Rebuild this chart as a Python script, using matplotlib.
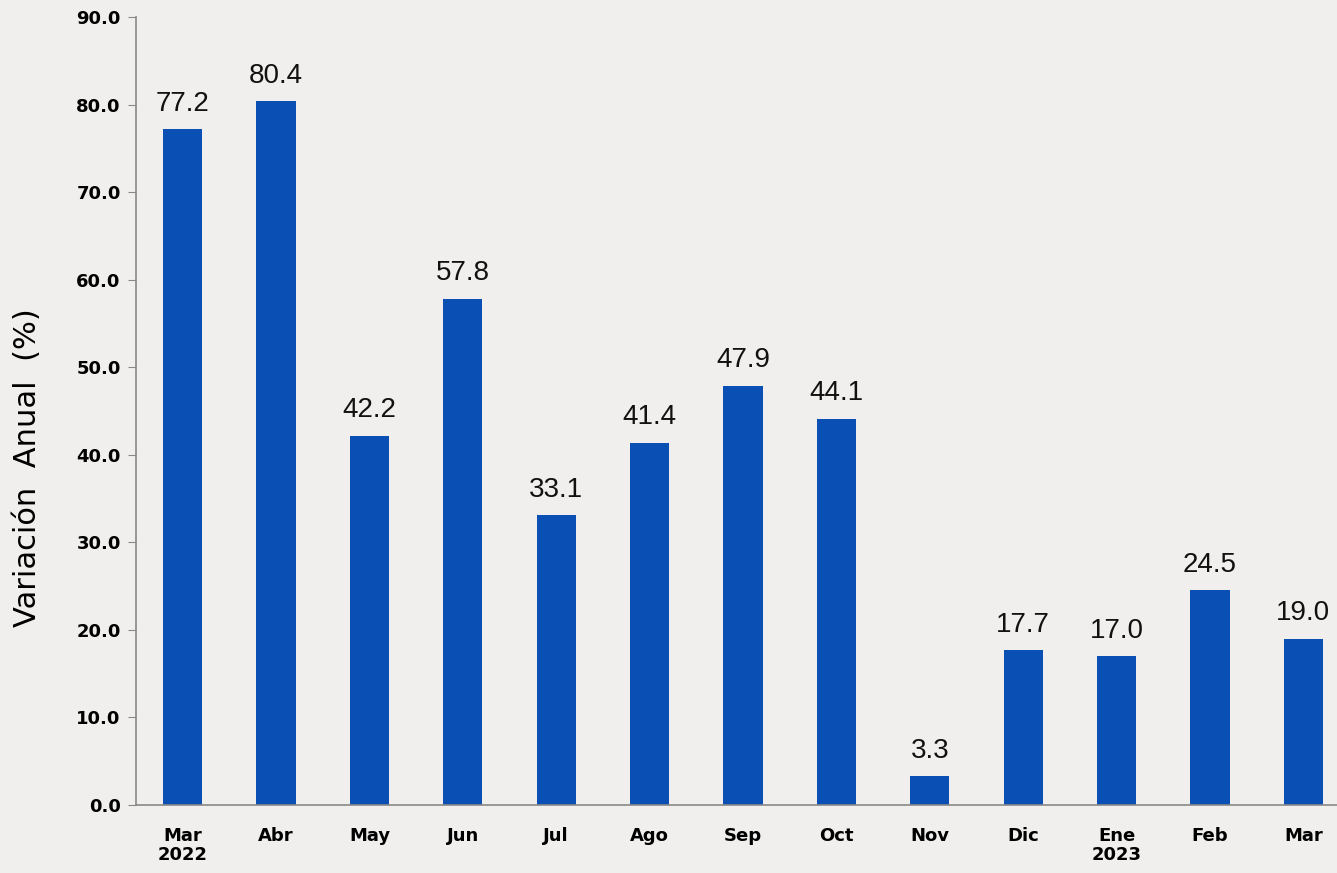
import matplotlib.pyplot as plt
import numpy as np

meses = ['Mar\n2022', 'Abr', 'May', 'Jun', 'Jul', 'Ago', 'Sep', 'Oct', 'Nov',
         'Dic', 'Ene\n2023', 'Feb', 'Mar']
variacion = [77.2, 80.4, 42.2, 57.8, 33.1, 41.4, 47.9, 44.1, 3.3,
             17.7, 17.0, 24.5, 19.0]
yticks = np.arange(0, 91, 10)

fondo = '#f0efed'
azul = '#0a50b4'

fig = plt.figure(figsize=(13.37, 8.73), dpi=100, facecolor=fondo)
ax = fig.add_axes([0.1017, 0.0779, 0.8983, 0.9026])
ax.set_facecolor(fondo)

x = np.arange(len(meses))
bars = ax.bar(x, variacion, width=0.42, color=azul)

for xi, v in zip(x, variacion):
    ax.annotate('{:.1f}'.format(v), (xi, v), xytext=(0, 9), textcoords='offset points',
                ha='center', va='bottom', fontsize=20, color='#111111',
                family='Liberation Sans')

ax.set_ylim(0, 90)
ax.set_xlim(-0.5, 12.36)
ax.set_yticks(yticks)
ax.set_yticklabels(['{:.1f}'.format(t) for t in yticks], fontsize=13,
                   fontweight='bold', family='DejaVu Sans')
ax.set_xticks(x)
ax.set_xticklabels(meses, fontsize=13, fontweight='bold', family='DejaVu Sans',
                   linespacing=1.05)
ax.tick_params(axis='x', length=0, pad=16)
ax.tick_params(axis='y', length=6, color='#888888', pad=5)

for s in ['top', 'right']:
    ax.spines[s].set_visible(False)
for s in ['left', 'bottom']:
    ax.spines[s].set_color('#888888')
    ax.spines[s].set_linewidth(1.2)

# etiqueta del eje y, algo desplazada hacia abajo como en el original
fig.text(28 / 1337, 1 - 468 / 873, 'Variación  Anual  (%)', rotation=90,
         ha='center', va='center', fontsize=22, family='DejaVu Sans')

fig.savefig('out.png', dpi=100, facecolor=fondo)
